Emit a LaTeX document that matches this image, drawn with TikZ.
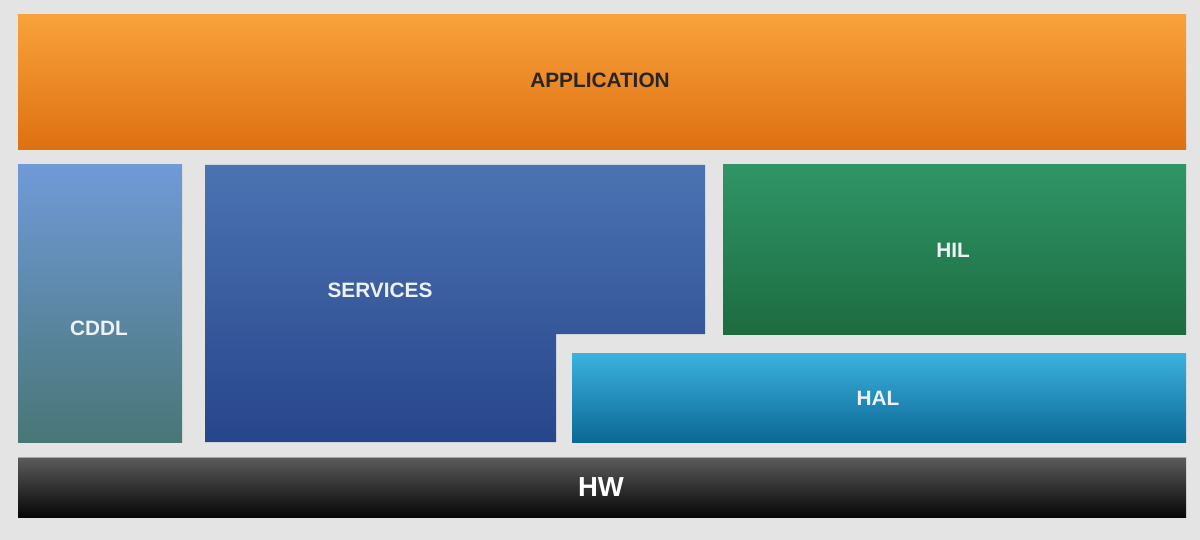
\documentclass[tikz,border=0pt]{standalone}
\usepackage{fontspec}
\setmainfont{Liberation Sans}
\definecolor{bgc}{HTML}{E4E4E4}
\definecolor{appT}{HTML}{F8A23C}
\definecolor{appB}{HTML}{DE7010}
\definecolor{cddlT}{HTML}{709AD8}
\definecolor{cddlB}{HTML}{497676}
\definecolor{srvT}{HTML}{4B73B2}
\definecolor{srvB}{HTML}{27458B}
\definecolor{hilT}{HTML}{2F9567}
\definecolor{hilB}{HTML}{1D6C40}
\definecolor{halT}{HTML}{3CB2DE}
\definecolor{halB}{HTML}{0B6896}
\definecolor{hwT}{HTML}{5C5C5C}
\definecolor{hwB}{HTML}{060606}
\definecolor{lbl}{HTML}{EEF2F6}
\tikzset{
  lab/.style={font=\bfseries\fontsize{20.8}{24}\selectfont, text=lbl, inner sep=0pt},
}
\begin{document}
\begin{tikzpicture}[x=1pt,y=-1pt]
\fill[bgc] (0,0) rectangle (1200,540);
\useasboundingbox (0,0) rectangle (1200,540);
% APPLICATION
\shade[top color=appT, bottom color=appB] (18,15) rectangle (1186,150);
\node[lab, text=black!85] (app) at (600,80) {APPLICATION};
% CDDL
\shade[top color=cddlT, bottom color=cddlB] (18,165) rectangle (182,442);
\node[lab] (cddl) at (99,328) {CDDL};
% SERVICES (L shape)
\shade[top color=srvT, bottom color=srvB] (205,165) -- (705,165) -- (705,334) -- (556,334) -- (556,442) -- (205,442) -- cycle;
\node[lab] (srv) at (380,290) {SERVICES};
% HIL
\shade[top color=hilT, bottom color=hilB] (723,165) rectangle (1186,334);
\node[lab] (hil) at (953,250) {HIL};
% HAL
\shade[top color=halT, bottom color=halB] (572,353) rectangle (1186,442);
\node[lab] (hal) at (878,398) {HAL};
% HW
\shade[top color=hwT, bottom color=hwB] (18,457) rectangle (1186,517);
\draw[gray!70, line width=0.8pt] (18,457.4) -- (1186,457.4);
\node[lab, font=\bfseries\fontsize{27.5}{30}\selectfont, text=white] (hw) at (601,487) {HW};
\end{tikzpicture}
\end{document}
